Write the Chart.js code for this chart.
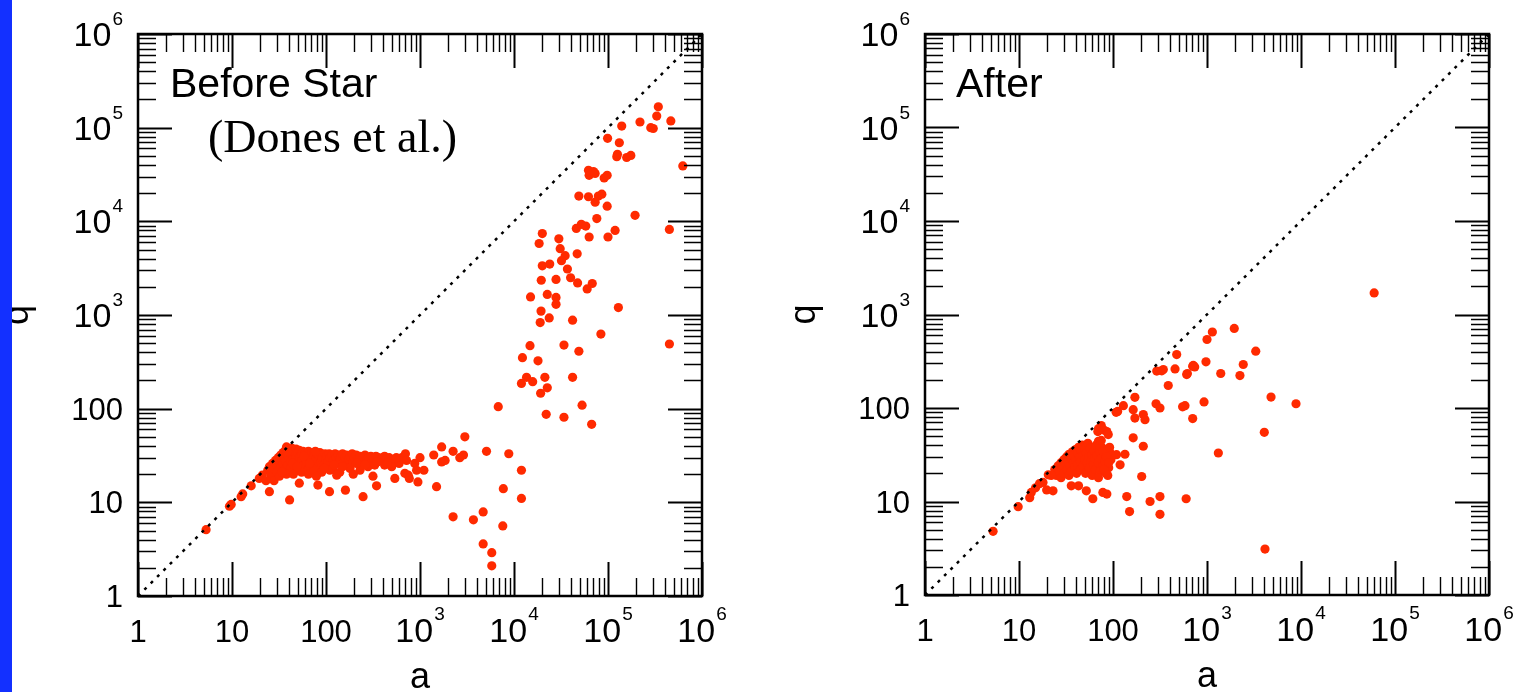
<!DOCTYPE html>
<html>
<head>
<meta charset="utf-8">
<script src="https://cdn.jsdelivr.net/npm/chart.js@4.4.1/dist/chart.umd.min.js"></script>
<style>
  html, body { margin: 0; padding: 0; background: #fff; }
  body { width: 1516px; height: 692px; position: relative; overflow: hidden; }
  .panel { position: absolute; top: 0; }
  #strip { position: absolute; left: 0; top: 0; width: 12px; height: 692px; background: #1330ff; z-index: 2; }
</style>
</head>
<body>
<div id="strip"></div>
<div class="panel" style="left:0"><canvas id="before" width="760" height="692"></canvas></div>
<div class="panel" style="left:760px"><canvas id="after" width="756" height="692"></canvas></div>
<script>
// axis ticks (both axes, both panels)
const tickValues = [1, 10, 100, 1e3, 1e4, 1e5, 1e6];
const tickBase = ['1', '10', '100', '10', '10', '10', '10'];
const tickExp = ['', '', '', '3', '4', '5', '6'];
const minorSteps = [2, 3, 4, 5, 6, 7, 8, 9];
const diagLine = [1, 1e6]; // q = a

// "Before Star" panel, [a, q]
const beforeDiag = [[5.3, 5.1], [9.4, 9.1], [9.8, 9.5], [12.5, 11.5], [13, 12.3], [16, 15], [19.5, 18],
  [21, 19.5], [23, 17], [25, 13], [41, 10.6]];
const beforeCluster = [[24, 22], [25, 24], [26, 20], [27, 26], [28, 23], [29, 28], [30, 25], [30, 21], [31, 30],
  [32, 27], [33, 24], [33, 32], [34, 29], [35, 34], [35, 26], [36, 22], [36, 31], [37, 36], [37, 28], [38, 39],
  [38, 33], [39, 25], [40, 37], [40, 30], [41, 34], [42, 27], [42, 23], [43, 38], [44, 32], [45, 29], [45, 35],
  [46, 25], [47, 33], [48, 37], [48, 30], [50, 27], [50, 34], [51, 22], [52, 36], [53, 31], [55, 28], [55, 33],
  [57, 35], [58, 25], [60, 30], [60, 34], [62, 27], [63, 32], [65, 35], [66, 23], [68, 30], [70, 33], [70, 28],
  [72, 26], [74, 34], [75, 31], [78, 29], [80, 33], [82, 24], [85, 31], [86, 34], [88, 27], [90, 30], [92, 32],
  [95, 25], [98, 33], [100, 29], [102, 31], [105, 27], [108, 33], [110, 30], [115, 32], [118, 23], [120, 28],
  [125, 33], [128, 30], [132, 26], [135, 32], [140, 29], [145, 31], [150, 33], [155, 27], [160, 30], [165, 32],
  [170, 25], [175, 29], [180, 31], [190, 33], [195, 27], [200, 30], [210, 32], [220, 29], [230, 31], [240, 26],
  [250, 30], [260, 32], [270, 28], [285, 30], [300, 31], [310, 27], [320, 29], [340, 31], [360, 30], [380, 28],
  [400, 30], [420, 31], [440, 29], [470, 30], [500, 28], [530, 29], [560, 30],
  [26, 18], [28, 17], [32, 19], [38, 20], [45, 20], [55, 21], [65, 20], [75, 22], [90, 21], [110, 22], [140, 21],
  [180, 23], [230, 22], [280, 24], [330, 25], [420, 25], [500, 24],
  [34, 21], [39, 35], [44, 26], [49, 24], [58, 31], [67, 26], [77, 35], [96, 23], [122, 25], [150, 24],
  [210, 26], [260, 25], [350, 27], [450, 26],
  [109, 13], [161, 13.5], [248, 11.5], [82, 15.3], [52, 16], [316, 19], [345, 15], [540, 18], [130, 19.5],
  [195, 20], [79, 19]];
const beforeTail = [[600, 26], [640, 30], [700, 33], [720, 28], [690, 20.4], [750, 19.5], [770, 18], [880, 26],
  [920, 22], [1000, 30], [950, 16.5], [1100, 22], [1400, 32], [1500, 14.7], [1700, 39], [1700, 27], [1850, 28],
  [2250, 35], [2650, 30], [2900, 32], [3000, 50], [5100, 35], [8800, 33], [12000, 22], [12000, 11], [6800, 105],
  [2250, 7], [3700, 6.5], [4700, 7.9], [4700, 3.6], [5800, 2.9], [5800, 2.1], [7600, 5.6], [7700, 14]];
const beforeUpper = [[343000, 167000], [330000, 133000], [466000, 118000], [219000, 115000], [285000, 100000],
  [303000, 98000], [140000, 104000], [99000, 77000], [132000, 69000], [124000, 49000], [126000, 52000],
  [158000, 48000], [175000, 50500], [625000, 39000], [62000, 35000], [70000, 34000], [63000, 31000],
  [73000, 32500], [91000, 29000], [98000, 31000], [49000, 18600], [62000, 18300], [79000, 18600], [86000, 19500],
  [73000, 16000], [98000, 14500], [194000, 11600], [76000, 10700], [52000, 9300], [58000, 8900], [46000, 8400],
  [63000, 6800], [119000, 8000], [100000, 6800], [450000, 8200], [20000, 7400], [18500, 5800], [30000, 6500],
  [31000, 5100], [35000, 4300], [47000, 4500], [32000, 3800], [20000, 3350], [24000, 3500], [37000, 3100],
  [19500, 2350], [28000, 2400], [40000, 2500], [47500, 2200], [68000, 2170], [60000, 1900], [15000, 1560],
  [22600, 1660], [28000, 1540], [28000, 1300], [19400, 1100], [23700, 930], [19000, 830], [42000, 880],
  [129000, 1200], [84000, 625], [14800, 470], [34000, 477], [49000, 410], [450000, 490], [12300, 350],
  [18000, 324], [13600, 216], [12000, 186], [15800, 194], [21300, 216], [22600, 167], [19200, 146],
  [42000, 216], [22000, 87], [34000, 81], [53000, 109], [67000, 68]];

// "After" panel, [a, q]
const afterDiag = [[5.3, 4.8], [9.8, 8.8], [13, 11], [13.5, 12.5], [15, 14], [16.5, 15.5], [18, 16], [19.7, 13.3],
  [20.5, 19.3], [22, 19], [23, 13]];
const afterCluster = [[24, 22], [25, 19], [26, 24], [27, 21], [28, 26], [28, 18], [29, 23], [30, 28], [30, 20],
  [31, 25], [32, 30], [32, 22], [33, 27], [34, 19], [34, 32], [35, 24], [36, 29], [36, 21], [37, 34], [38, 26],
  [38, 31], [39, 23], [40, 36], [40, 28], [41, 20], [42, 33], [42, 25], [43, 38], [44, 30], [45, 22], [45, 27],
  [46, 35], [47, 40], [48, 24], [48, 31], [50, 28], [50, 36], [51, 20], [52, 33], [53, 26], [54, 42], [55, 30],
  [56, 23], [57, 37], [58, 27], [60, 32], [60, 19], [62, 25], [63, 35], [64, 29], [65, 22], [66, 40], [68, 31],
  [70, 26], [70, 44], [72, 34], [73, 21], [75, 29], [76, 38], [78, 24], [80, 33], [82, 27], [84, 20], [85, 36],
  [88, 30], [90, 23], [92, 34], [95, 28], [72, 40], [78, 35], [85, 30], [90, 26], [80, 22], [70, 18], [88, 19],
  [75, 45], [92, 38],
  [36, 14.7], [43, 14.7], [52, 13], [61, 10.7], [78, 12.5], [86, 12], [140, 11.3], [150, 7.8], [248, 10],
  [316, 11.3], [316, 7.3], [202, 18.5], [109, 31.7], [119, 24.7], [134, 32], [164, 48], [210, 39], [70, 60],
  [75, 65], [80, 58], [86, 56], [89, 52], [73, 61], [69, 56], [108, 90], [112, 92], [129, 106], [210, 85],
  [219, 75], [164, 96], [171, 78], [171, 130]];
const afterSpread = [[287, 111], [316, 100], [550, 103], [583, 106], [600, 10.7], [704, 77], [715, 285],
  [608, 228], [292, 248], [343, 258], [330, 250], [457, 262], [476, 373], [387, 174], [618, 234], [704, 280],
  [740, 275], [930, 116], [975, 312], [1000, 540], [1140, 650], [1950, 710], [1400, 234], [2240, 222],
  [2430, 292], [3300, 405], [4800, 131], [8850, 111], [4070, 55], [1320, 33], [4140, 3.1], [60000, 1700]];

const RED = '#ff2a00';
const SANS = '"Liberation Sans", Arial, sans-serif';

const toXY = arr => arr.map(p => ({ x: p[0], y: p[1] }));

// frame with inward log ticks on all four sides, tick labels, axis titles, notes
const frameAxes = {
  id: 'frameAxes',
  afterDraw(chart, args, opts) {
    const { ctx, chartArea: ca, scales: { x, y } } = chart;
    ctx.save();
    ctx.strokeStyle = '#000';
    ctx.fillStyle = '#000';

    const ticks = [];
    tickValues.forEach((v, i) => {
      ticks.push({ v, len: 34, w: 2 });
      if (i < tickValues.length - 1) minorSteps.forEach(m => ticks.push({ v: v * m, len: 18, w: 1.4 }));
    });
    ticks.forEach(t => {
      const px = Math.round(x.getPixelForValue(t.v)) + 0.5;
      const py = Math.round(y.getPixelForValue(t.v)) + 0.5;
      ctx.lineWidth = t.w;
      ctx.beginPath();
      ctx.moveTo(px, ca.bottom); ctx.lineTo(px, ca.bottom - t.len);
      ctx.moveTo(px, ca.top); ctx.lineTo(px, ca.top + t.len);
      ctx.moveTo(ca.left, py); ctx.lineTo(ca.left + t.len, py);
      ctx.moveTo(ca.right, py); ctx.lineTo(ca.right - t.len, py);
      ctx.stroke();
    });

    ctx.lineWidth = 2.5;
    ctx.strokeRect(ca.left, ca.top, ca.right - ca.left, ca.bottom - ca.top);

    // tick labels
    ctx.textBaseline = 'alphabetic';
    ctx.textAlign = 'left';
    tickValues.forEach((v, i) => {
      const base = tickBase[i], exp = tickExp[i];
      const baseFont = (exp ? '34px ' : '31px ') + SANS;
      const expFont = '19px ' + SANS;
      ctx.font = baseFont;
      const wb = ctx.measureText(base).width;
      ctx.font = expFont;
      const we = exp ? ctx.measureText(exp).width + 1 : 0;
      // x axis
      const px = x.getPixelForValue(v);
      const sx = px - (wb + we) / 2;
      ctx.font = baseFont;
      ctx.fillText(base, sx, ca.bottom + 46);
      if (exp) { ctx.font = expFont; ctx.fillText(exp, sx + wb + 1, ca.bottom + 24); }
      // y axis
      const py = y.getPixelForValue(v);
      const sy = ca.left - 15 - (wb + we);
      ctx.font = baseFont;
      ctx.fillText(base, sy, py + (exp ? 12 : 11));
      if (exp) { ctx.font = expFont; ctx.fillText(exp, sy + wb + 1, py - 9); }
    });

    // axis titles
    ctx.font = '36px ' + SANS;
    ctx.textAlign = 'center';
    ctx.fillText('a', (ca.left + ca.right) / 2, ca.bottom + 92);
    ctx.save();
    ctx.translate(ca.left - 120, (ca.top + ca.bottom) / 2);
    ctx.rotate(-Math.PI / 2);
    ctx.textBaseline = 'middle';
    ctx.fillText('q', 0, 0);
    ctx.restore();

    // notes inside the frame
    ctx.textAlign = 'left';
    (opts.notes || []).forEach(n => {
      ctx.font = n.font;
      ctx.fillText(n.text, ca.left + n.dx, ca.top + n.dy);
    });
    ctx.restore();
  }
};

function makePanel(id, groups, padding, notes) {
  const datasets = [{
    data: diagLine.map(v => ({ x: v, y: v })),
    showLine: true,
    borderColor: '#000',
    borderWidth: 2.5,
    borderDash: [3, 6],
    pointRadius: 0
  }];
  groups.forEach(g => datasets.push({
    data: toXY(g),
    pointRadius: 4.6,
    pointBackgroundColor: RED,
    pointBorderWidth: 0,
    showLine: false
  }));
  return new Chart(document.getElementById(id), {
    type: 'scatter',
    data: { datasets },
    options: {
      responsive: false,
      animation: false,
      events: [],
      layout: { padding },
      plugins: {
        legend: { display: false },
        tooltip: { enabled: false },
        frameAxes: { notes }
      },
      scales: {
        x: { type: 'logarithmic', min: 1, max: 1e6, display: false },
        y: { type: 'logarithmic', min: 1, max: 1e6, display: false }
      }
    },
    plugins: [frameAxes]
  });
}

makePanel('before', [beforeDiag, beforeCluster, beforeTail, beforeUpper],
  { left: 138, right: 58, top: 34, bottom: 96 },
  [
    { text: 'Before Star', font: '41px ' + SANS, dx: 32, dy: 63 },
    { text: '(Dones et al.)', font: '46px "Liberation Serif", "Times New Roman", serif', dx: 70, dy: 118 }
  ]);

makePanel('after', [afterDiag, afterCluster, afterSpread],
  { left: 165, right: 27, top: 34, bottom: 97 },
  [
    { text: 'After', font: '41px ' + SANS, dx: 31, dy: 63 }
  ]);
</script>
</body>
</html>
